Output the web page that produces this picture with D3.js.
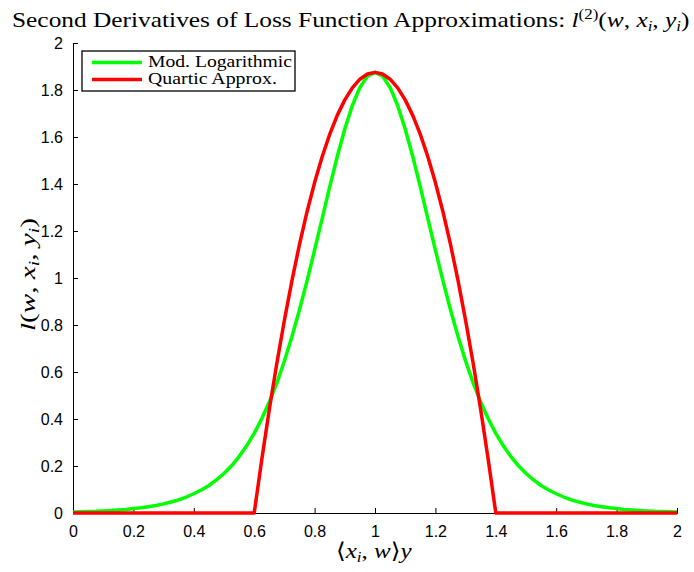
<!DOCTYPE html>
<html><head><meta charset="utf-8">
<script src="https://cdn.jsdelivr.net/npm/d3@7/dist/d3.min.js"></script>
<style>html,body{margin:0;padding:0;background:#fff;}svg{display:block;}</style>
</head><body>
<svg id="chart" width="694" height="572"></svg>
<script>
// ---- data ----
const xValues = [0,0.025,0.05,0.075,0.1,0.125,0.15,0.175,0.2,0.225,0.25,0.275,0.3,0.325,0.35,0.375,0.4,0.425,0.45,0.475,0.5,0.525,0.55,0.575,0.6,0.625,0.65,0.675,0.7,0.725,0.75,0.775,0.8,0.825,0.85,0.875,0.9,0.925,0.95,0.975,1,1.025,1.05,1.075,1.1,1.125,1.15,1.175,1.2,1.225,1.25,1.275,1.3,1.325,1.35,1.375,1.4,1.425,1.45,1.475,1.5,1.525,1.55,1.575,1.6,1.625,1.65,1.675,1.7,1.725,1.75,1.775,1.8,1.825,1.85,1.875,1.9,1.925,1.95,1.975,2];
const modLogValues = [0.004,0.005,0.006,0.007,0.009,0.011,0.013,0.015,0.019,0.022,0.027,0.032,0.039,0.047,0.056,0.068,0.082,0.098,0.117,0.141,0.168,0.201,0.240,0.286,0.339,0.401,0.472,0.554,0.647,0.751,0.865,0.988,1.119,1.253,1.388,1.517,1.634,1.734,1.811,1.859,1.875,1.859,1.811,1.734,1.634,1.517,1.388,1.253,1.119,0.988,0.865,0.751,0.647,0.554,0.472,0.401,0.339,0.286,0.240,0.201,0.168,0.141,0.117,0.098,0.082,0.068,0.056,0.047,0.039,0.032,0.027,0.022,0.019,0.015,0.013,0.011,0.009,0.007,0.006,0.005,0.004];
const quarticValues = [0,0,0,0,0,0,0,0,0,0,0,0,0,0,0,0,0,0,0,0,0,0,0,0,0,0.227,0.440,0.637,0.820,0.989,1.143,1.282,1.406,1.516,1.611,1.692,1.758,1.809,1.846,1.868,1.875,1.868,1.846,1.809,1.758,1.692,1.611,1.516,1.406,1.282,1.143,0.989,0.820,0.637,0.440,0.227,0,0,0,0,0,0,0,0,0,0,0,0,0,0,0,0,0,0,0,0,0,0,0,0,0];
const xTicks = [0,0.2,0.4,0.6,0.8,1,1.2,1.4,1.6,1.8,2];
const yTicks = [0,0.2,0.4,0.6,0.8,1,1.2,1.4,1.6,1.8,2];
const seriesNames = ["Mod. Logarithmic","Quartic Approx."];
const seriesColors = ["#00ff00","#ff0000"];

// ---- layout ----
const svg = d3.select("#chart");
const L = 73, R = 677, T = 43, B = 513;
const x = d3.scaleLinear().domain([0,2]).range([L,R]);
const y = d3.scaleLinear().domain([0,2]).range([B,T]);
const serif = "'Liberation Serif','DejaVu Serif',serif";
const sans = "'Liberation Sans',Arial,Helvetica,sans-serif";

function fitWidth(sel, target, ox) {
  const w = sel.node().getBBox().width;
  const s = target / w;
  sel.attr("transform", `translate(${ox},0) scale(${s},1) translate(${-ox},0)`);
}

// axes
const xAxis = d3.axisBottom(x).tickValues(xTicks).tickSize(-5).tickPadding(13).tickFormat(d3.format("~g"));
const yAxis = d3.axisLeft(y).tickValues(yTicks).tickSize(-5).tickPadding(10).tickFormat(d3.format("~g"));
const gx = svg.append("g").attr("transform",`translate(0,${B})`).call(xAxis);
const gy = svg.append("g").attr("transform",`translate(${L},0)`).call(yAxis);
[gx,gy].forEach(g=>{
  g.select(".domain").attr("stroke","#000").attr("stroke-width",1);
  g.selectAll(".tick line").attr("stroke","#000").attr("stroke-width",1);
  g.selectAll(".tick text").attr("font-family",sans).attr("font-size",16).attr("fill","#000");
});

// curves
const data = [modLogValues, quarticValues];
const line = d3.line().x((d,i)=>x(xValues[i])).y(d=>y(d)).curve(d3.curveLinear);
data.forEach((vals,k)=>{
  svg.append("path").attr("d",line(vals)).attr("fill","none")
    .attr("stroke",seriesColors[k]).attr("stroke-width",3.5)
    .attr("stroke-linejoin","round").attr("stroke-linecap","butt");
});

// legend
const lg = svg.append("g");
lg.append("rect").attr("x",82).attr("y",51).attr("width",213).attr("height",40)
  .attr("fill","#fff").attr("stroke","#000").attr("stroke-width",1.3);
const legendY = [62.5,79.5];
seriesNames.forEach((nm,k)=>{
  lg.append("line").attr("x1",92).attr("x2",142).attr("y1",legendY[k]).attr("y2",legendY[k])
    .attr("stroke",seriesColors[k]).attr("stroke-width",3.5);
  const t = lg.append("text").attr("x",148).attr("y",legendY[k]+4.5)
    .attr("font-family",serif).attr("font-size",16).attr("fill","#000").text(nm);
  fitWidth(t, k===0?144:129, 148);
});

// title
const title = svg.append("text").attr("x",12).attr("y",27).attr("font-family",serif).attr("font-size",21).attr("fill","#000");
title.append("tspan").text("Second Derivatives of Loss Function Approximations: ");
title.append("tspan").attr("font-style","italic").text("l");
title.append("tspan").attr("font-size",14).attr("dy",-8).text("(2)");
title.append("tspan").attr("dy",8).text("(");
title.append("tspan").attr("font-style","italic").text("w");
title.append("tspan").text(", ");
title.append("tspan").attr("font-style","italic").text("x");
title.append("tspan").attr("font-style","italic").attr("font-size",14).attr("dy",4).text("i");
title.append("tspan").attr("dy",-4).text(", ");
title.append("tspan").attr("font-style","italic").text("y");
title.append("tspan").attr("font-style","italic").attr("font-size",14).attr("dy",4).text("i");
title.append("tspan").attr("dy",-4).text(")");
fitWidth(title, 678, 12);

// x label
const xl = svg.append("text").attr("x",336).attr("y",558).attr("font-family",serif).attr("font-size",22).attr("fill","#000");
xl.append("tspan").text("\u27E8");
xl.append("tspan").attr("font-style","italic").text("x");
xl.append("tspan").attr("font-style","italic").attr("font-size",15).attr("dy",4).text("i");
xl.append("tspan").attr("dy",-4).text(", ");
xl.append("tspan").attr("font-style","italic").text("w");
xl.append("tspan").text("\u27E9");
xl.append("tspan").attr("font-style","italic").text("y");
fitWidth(xl, 76, 336);

// y label
const yg = svg.append("g").attr("transform","translate(35,331) rotate(-90)");
const yl = yg.append("text").attr("x",0).attr("y",0).attr("font-family",serif).attr("font-size",22).attr("fill","#000");
yl.append("tspan").attr("font-style","italic").text("l");
yl.append("tspan").text("(");
yl.append("tspan").attr("font-style","italic").text("w");
yl.append("tspan").text(", ");
yl.append("tspan").attr("font-style","italic").text("x");
yl.append("tspan").attr("font-style","italic").attr("font-size",15).attr("dy",4).text("i");
yl.append("tspan").attr("dy",-4).text(", ");
yl.append("tspan").attr("font-style","italic").text("y");
yl.append("tspan").attr("font-style","italic").attr("font-size",15).attr("dy",4).text("i");
yl.append("tspan").attr("dy",-4).text(")");
fitWidth(yl, 113, 0);
</script>
</body></html>
